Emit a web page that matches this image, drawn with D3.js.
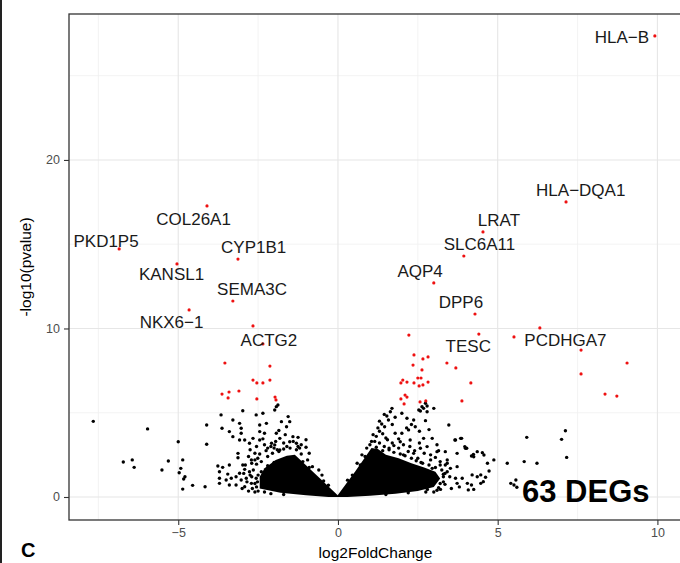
<!DOCTYPE html>
<html>
<head>
<meta charset="utf-8">
<script src="https://cdn.jsdelivr.net/npm/d3@7"></script>
<style>
  body { margin: 0; background: #fff; }
  svg { display: block; font-family: "Liberation Sans", Arial, sans-serif; }
</style>
</head>
<body>
<div id="chart"></div>
<script>
// axis setup
const xDomain = [-8.42, 10.77];
const yDomain = [-1.365, 28.66];
const xTicks = [-5, 0, 5, 10];
const yTicks = [0, 10, 20];
const xMinor = [-7.5, -2.5, 2.5, 7.5];
const yMinor = [5, 15, 25];

// [gene, log2FC, -log10p, label log2FC, label -log10p]
const labeledGenes = [
  ['HLA\u2212B', 9.92, 27.36, 8.89, 27.3],
  ['HLA\u2212DQA1', 7.14, 17.51, 7.6, 18.22],
  ['LRAT', 4.54, 15.73, 5.04, 16.44],
  ['SLC6A11', 3.94, 14.30, 4.43, 15.01],
  ['AQP4', 3.00, 12.70, 2.57, 13.41],
  ['DPP6', 4.29, 10.86, 3.85, 11.57],
  ['TESC', 4.41, 9.67, 4.08, 8.96],
  ['PCDHGA7', 5.51, 9.50, 7.12, 9.32],
  ['COL26A1', -4.10, 17.27, -4.52, 16.53],
  ['PKD1P5', -6.85, 14.72, -7.26, 15.19],
  ['CYP1B1', -3.13, 14.12, -2.64, 14.87],
  ['KANSL1', -5.04, 13.83, -5.21, 13.23],
  ['SEMA3C', -3.29, 11.63, -2.69, 12.37],
  ['NKX6\u22121', -4.66, 11.10, -5.21, 10.42],
  ['ACTG2', -2.66, 10.15, -2.16, 9.32]
];

// other significant genes (red)
const sigPoints = [
  [-2.35, 9.08], [-3.54, 7.95], [-2.13, 7.77], [-2.66, 6.94], [-2.54, 6.77],
  [-2.35, 6.77], [-2.13, 6.94], [-3.41, 6.23], [-3.10, 6.29], [-3.63, 6.11],
  [-3.44, 5.88], [-2.54, 5.82], [-1.97, 5.93], [-1.94, 5.76],
  [2.22, 9.61], [2.38, 8.43], [2.66, 8.19], [2.82, 8.31], [2.35, 7.83],
  [2.63, 7.54], [3.41, 7.95], [3.69, 7.66], [2.03, 6.94], [2.16, 6.82],
  [1.97, 6.77], [2.38, 6.77], [2.50, 7.06], [2.60, 7.06], [2.54, 6.59],
  [2.66, 6.65], [2.82, 6.82], [4.16, 6.77], [2.10, 6.05], [2.16, 5.93],
  [1.97, 5.82], [2.07, 5.52], [2.57, 5.64], [2.75, 5.70], [3.88, 5.70],
  [7.61, 8.72], [9.05, 7.95], [7.61, 7.30], [8.36, 6.11], [8.73, 5.99],
  [6.32, 10.03]
];

// dense cloud of non-significant genes, outline of each wing
const leftCore = [
  [0.05, 0], [-0.7, 1.35], [-1.35, 2.5], [-1.6, 2.45], [-1.95, 2.2],
  [-2.3, 1.7], [-2.45, 1.2], [-2.45, 0.5], [-1.8, 0.25], [-1.0, 0.1], [-0.3, 0.0]
];
const rightCore = [
  [-0.05, 0], [0.55, 1.55], [1.05, 2.9], [1.25, 2.85], [1.5, 2.5], [1.9, 2.3],
  [2.3, 2.0], [2.7, 1.75], [3.05, 1.5], [3.2, 1.1], [3.0, 0.6], [2.5, 0.35],
  [1.8, 0.2], [1.0, 0.08], [0.3, 0.0]
];

// scattered non-significant genes (black)
const nsPoints = [
  [-7.66, 4.49], [-5.96, 4.04], [-5.0, 3.28], [-4.11, 4.27], [-4.11, 3.13],
  [-6.72, 2.08], [-6.44, 2.2], [-6.38, 1.76], [-5.51, 1.6], [-5.31, 2.14],
  [-4.86, 2.2], [-4.92, 1.7], [-4.97, 1.44], [-4.79, 1.2], [-4.83, 1.07],
  [-4.86, 0.47], [-4.55, 0.69], [-4.16, 0.61], [-3.66, 4.87], [-3.63, 4.08],
  [-2.98, 5.12], [-3.29, 4.57], [-3.08, 4.37], [-3.03, 4.08], [-3.4, 3.88],
  [-3.29, 3.58], [-3.03, 3.78], [-3.08, 3.38], [-2.92, 3.38], [-2.77, 3.19],
  [-2.56, 4.87], [-2.35, 4.97], [-2.45, 4.27], [-2.24, 4.37], [-2.45, 3.88],
  [-2.3, 3.78], [-2.66, 3.48], [-2.45, 3.38], [-1.98, 5.16], [-1.93, 5.36],
  [-1.88, 5.46], [-1.56, 4.77], [-1.77, 4.47], [-1.61, 4.17], [-1.51, 4.47],
  [-1.93, 3.78], [-1.82, 3.48], [-1.41, 3.58], [-1.25, 3.54], [-1.51, 3.28],
  [-1.3, 3.19], [-2.08, 3.19], [-1.98, 3.09], [-1.82, 2.79], [-3.13, 2.59],
  [-3.13, 2.33], [-2.71, 2.2], [-2.51, 2.3], [-3.76, 1.84], [-3.61, 1.76],
  [-3.71, 1.5], [-3.4, 1.9], [-2.98, 1.9], [-2.92, 1.64], [-2.77, 1.5],
  [-3.71, 1.11], [-3.71, 0.81], [-3.5, 1.01], [-3.34, 1.11], [-3.19, 1.2],
  [-3.03, 1.01], [-2.87, 1.11], [-3.4, 0.71], [-3.19, 0.71], [-2.92, 0.61],
  [-2.71, 0.81], [-2.56, 1.11], [-3.45, 1.36], [-3.08, 1.41], [-2.6, 2.6],
  [-2.2, 2.9], [-1.6, 3.0], [-1.2, 2.9], [-0.9, 2.6], [-2.7, 2.0], [-2.75, 1.3],
  [-2.68, 0.5], [-2.3, 3.1], [-1.9, 2.8], [-1.0, 2.95], [-2.85, 0.9],
  [-2.6, 2.2], [-2.55, 1.95], [-2.65, 1.6], [-2.7, 1.2], [-2.6, 0.8],
  [-2.4, 2.1], [-2.2, 2.4], [-2.05, 2.6], [-1.85, 2.7], [-1.7, 2.85],
  [-1.5, 2.9], [-1.3, 2.8], [-1.15, 2.55], [-0.95, 2.2], [-0.8, 1.8],
  [-2.45, 2.55], [-2.25, 2.75], [-2.1, 3.0], [-1.95, 3.3], [-1.7, 3.2],
  [-1.4, 3.3], [-1.15, 3.1], [-2.8, 2.4], [-2.9, 1.9], [-2.95, 1.4],
  [-3.0, 0.5], [-2.8, 0.35], [-2.6, 0.3], [-2.75, 2.8], [-2.55, 3.0],
  [-2.35, 3.45], [-1.85, 3.95], [-1.65, 3.7], [-1.0, 3.4], [-0.6, 1.6],
  [-0.5, 1.3], [-1.25, 3.0], [-2.0, 2.9],
  [-2.5, 0.35], [-2.3, 0.3], [-2.1, 0.2], [-1.7, 0.15], [-2.55, 0.6],
  [-2.52, 0.9], [-2.5, 1.3], [-2.4, 1.5], [-2.2, 1.85], [-2.0, 2.05],
  [-0.45, 0.95], [-0.3, 0.7], [-0.9, 1.75], [-1.1, 2.1],
  [1.69, 5.26], [1.64, 5.06], [1.53, 4.81], [1.37, 4.33], [1.46, 4.17],
  [1.58, 4.57], [1.79, 4.73], [2.0, 4.97], [2.16, 4.67], [2.37, 4.57],
  [2.53, 5.16], [2.68, 5.26], [2.79, 5.4], [2.74, 4.53], [2.42, 4.17],
  [2.21, 3.98], [2.0, 3.78], [1.79, 3.78], [1.95, 3.28], [2.26, 3.38],
  [2.68, 3.48], [2.95, 3.48], [2.58, 2.89], [2.79, 2.99], [2.37, 2.59],
  [3.47, 4.27], [3.68, 3.38], [3.84, 3.48], [3.1, 2.69], [3.36, 2.69],
  [3.42, 2.2], [3.73, 2.59], [3.99, 2.89], [4.25, 2.39], [4.36, 2.69],
  [4.57, 2.49], [4.88, 2.2], [4.68, 2.0], [3.42, 2.0], [3.52, 1.7],
  [3.73, 1.8], [3.89, 1.11], [4.2, 1.31], [4.36, 1.2], [4.05, 0.81],
  [4.25, 0.45], [4.47, 0.81], [5.3, 2.0], [5.83, 2.1], [5.91, 3.54],
  [5.41, 0.81], [5.51, 0.71], [7.12, 3.93], [7.0, 3.42], [7.16, 2.35],
  [6.23, 2.0], [4.73, 1.54], [5.57, 1.01], [5.6, 0.58], [3.66, 3.38],
  [3.87, 3.48], [4.03, 2.89], [4.24, 2.53], [4.52, 2.63], [4.18, 2.43],
  [4.47, 1.31], [4.62, 1.17], [4.55, 0.91], [4.18, 0.71], [4.08, 0.42],
  [3.68, 1.11], [3.73, 0.81], [3.21, 0.45], [3.42, 1.5], [3.36, 1.9],
  [3.15, 2.75], [3.97, 2.99], [2.79, 5.06], [3.0, 5.26], [2.74, 5.56],
  [2.63, 5.36], [2.58, 5.1], [1.2, 3.6], [1.3, 3.9], [1.5, 3.5], [1.7, 3.2],
  [1.9, 2.9], [2.2, 2.7], [2.5, 2.3], [2.9, 2.2], [3.2, 1.9], [3.3, 0.9],
  [3.35, 1.4], [1.05, 3.3], [1.6, 2.9], [2.05, 2.5], [3.0, 0.3], [2.6, 2.05],
  [1.0, 3.1], [1.15, 3.3], [1.3, 3.2], [1.45, 3.0], [1.6, 2.8], [1.75, 2.65],
  [1.95, 2.55], [2.1, 2.45], [2.3, 2.3], [2.45, 2.15], [2.65, 2.0], [2.85, 1.9],
  [3.05, 1.75], [3.25, 1.6], [3.3, 1.2], [3.35, 0.75], [3.1, 0.4], [2.75, 0.3],
  [0.9, 2.9], [0.75, 2.5], [0.6, 2.0], [1.1, 3.7], [1.25, 4.1], [1.4, 3.75],
  [1.55, 3.4], [1.75, 3.05], [1.9, 3.45], [2.05, 3.1], [2.25, 3.0], [2.4, 2.75],
  [2.55, 3.2], [2.7, 2.6], [2.9, 2.5], [3.05, 2.35], [3.2, 2.1], [1.3, 4.5],
  [1.45, 4.9], [1.7, 4.3], [2.3, 4.3], [2.55, 3.9], [2.85, 4.0], [3.1, 3.1],
  [3.5, 1.2], [3.55, 0.5], [3.8, 0.6], [2.15, 4.1],
  [0.3, 1.0], [0.45, 1.3], [0.7, 1.9], [0.85, 2.4], [3.2, 0.8], [3.15, 0.55],
  [2.8, 0.45], [2.2, 0.25], [1.5, 0.15], [3.3, 1.35], [2.95, 1.7], [1.4, 2.75],
  [1.2, 2.95]
];

const width = 680;
const height = 563;
const panel = { left: 69, right: 682, top: 14, bottom: 520 };

const svg = d3.select('#chart').append('svg')
  .attr('width', width)
  .attr('height', height);

const x = d3.scaleLinear().domain(xDomain).range([panel.left, panel.right]);
const y = d3.scaleLinear().domain(yDomain).range([panel.bottom, panel.top]);

// grid
const grid = svg.append('g');
grid.selectAll('.vminor').data(xMinor).enter().append('line')
  .attr('x1', d => x(d)).attr('x2', d => x(d))
  .attr('y1', panel.top).attr('y2', panel.bottom)
  .attr('stroke', '#f0f0f0').attr('stroke-width', 0.8);
grid.selectAll('.hminor').data(yMinor).enter().append('line')
  .attr('y1', d => y(d)).attr('y2', d => y(d))
  .attr('x1', panel.left).attr('x2', panel.right)
  .attr('stroke', '#f0f0f0').attr('stroke-width', 0.8);
grid.selectAll('.vmajor').data(xTicks).enter().append('line')
  .attr('x1', d => x(d)).attr('x2', d => x(d))
  .attr('y1', panel.top).attr('y2', panel.bottom)
  .attr('stroke', '#e6e6e6').attr('stroke-width', 1.1);
grid.selectAll('.hmajor').data(yTicks).enter().append('line')
  .attr('y1', d => y(d)).attr('y2', d => y(d))
  .attr('x1', panel.left).attr('x2', panel.right)
  .attr('stroke', '#e6e6e6').attr('stroke-width', 1.1);

// dense cores
const corePath = d3.line().x(d => x(d[0])).y(d => y(d[1])).curve(d3.curveLinearClosed);
svg.append('path').attr('d', corePath(leftCore)).attr('fill', '#000');
svg.append('path').attr('d', corePath(rightCore)).attr('fill', '#000');

svg.append('g').selectAll('circle').data(nsPoints).enter().append('circle')
  .attr('cx', d => x(d[0])).attr('cy', d => y(d[1]))
  .attr('r', 1.7).attr('fill', '#000');

svg.append('g').selectAll('circle').data(sigPoints).enter().append('circle')
  .attr('cx', d => x(d[0])).attr('cy', d => y(d[1]))
  .attr('r', 1.6).attr('fill', '#ee1111');

svg.append('g').selectAll('circle').data(labeledGenes).enter().append('circle')
  .attr('cx', d => x(d[1])).attr('cy', d => y(d[2]))
  .attr('r', 1.6).attr('fill', '#ee1111');

svg.append('g').selectAll('text').data(labeledGenes).enter().append('text')
  .attr('x', d => x(d[3])).attr('y', d => y(d[4]))
  .attr('dy', '0.36em')
  .attr('text-anchor', 'middle')
  .attr('font-size', 17)
  .attr('fill', '#1a1a1a')
  .text(d => d[0]);

// panel border
svg.append('rect')
  .attr('x', panel.left).attr('y', panel.top)
  .attr('width', panel.right - panel.left).attr('height', panel.bottom - panel.top)
  .attr('fill', 'none').attr('stroke', '#333').attr('stroke-width', 1.3);

// axes
const xAxis = svg.append('g')
  .attr('transform', `translate(0,${panel.bottom})`)
  .call(d3.axisBottom(x).tickValues(xTicks).tickSize(5).tickPadding(3));
const yAxis = svg.append('g')
  .attr('transform', `translate(${panel.left},0)`)
  .call(d3.axisLeft(y).tickValues(yTicks).tickSize(5).tickPadding(4));
[xAxis, yAxis].forEach(a => {
  a.select('.domain').remove();
  a.selectAll('.tick line').attr('stroke', '#333').attr('stroke-width', 1.1);
  a.selectAll('.tick text')
    .attr('fill', '#4d4d4d')
    .attr('font-size', 12.5)
    .attr('font-family', '"Liberation Sans", Arial, sans-serif');
});

svg.append('text')
  .attr('x', (panel.left + panel.right) / 2).attr('y', 558)
  .attr('text-anchor', 'middle').attr('font-size', 15.5).attr('fill', '#000')
  .text('log2FoldChange');

svg.append('text')
  .attr('transform', `translate(31,${(panel.top + panel.bottom) / 2}) rotate(-90)`)
  .attr('text-anchor', 'middle').attr('font-size', 15.5).attr('fill', '#000')
  .text('-log10(pvalue)');

svg.append('text')
  .attr('x', 522).attr('y', 502)
  .attr('font-size', 31).attr('font-weight', 'bold').attr('fill', '#000')
  .text('63 DEGs');

// panel letter at the bottom-left corner
svg.append('text')
  .attr('x', 21).attr('y', 557)
  .attr('font-size', 20).attr('font-weight', 'bold').attr('fill', '#000')
  .text('C');

// frame edge at the left of the figure
svg.append('line')
  .attr('x1', 1).attr('x2', 1).attr('y1', 0).attr('y2', height)
  .attr('stroke', '#222').attr('stroke-width', 2);
</script>
</body>
</html>
